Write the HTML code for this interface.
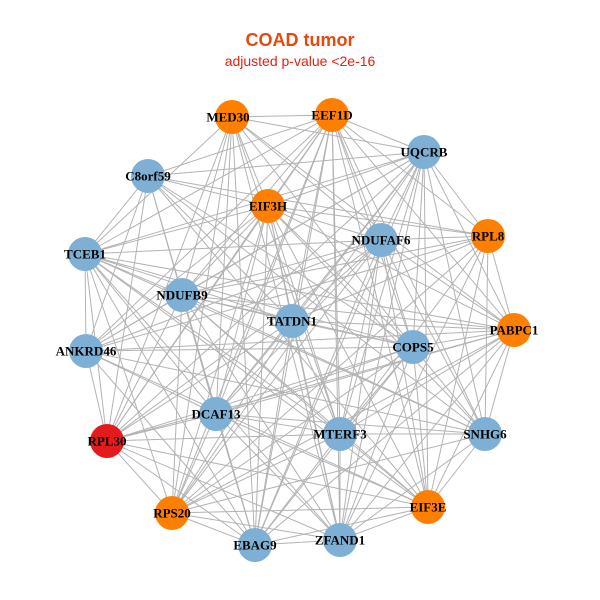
<!DOCTYPE html>
<html><head><meta charset="utf-8"><style>
html,body{margin:0;padding:0;background:#fff;width:600px;height:600px;overflow:hidden}
svg{display:block}
.l{font-family:"Liberation Serif",serif;font-weight:bold;font-size:13px;fill:#000;text-anchor:middle;dominant-baseline:central}
</style></head><body>
<svg id="s" width="600" height="600" viewBox="0 0 600 600">
<text x="300" y="46" font-family="Liberation Sans,sans-serif" font-weight="bold" font-size="18" fill="#e8480e" text-anchor="middle">COAD tumor</text>
<text x="300" y="66" font-family="Liberation Sans,sans-serif" font-size="14" fill="#e8200e" text-anchor="middle">adjusted p-value &lt;2e-16</text>
<g id="e" stroke="#b3b3b3" stroke-width="1"></g>
<g id="n"></g>
<g>
<text class="l" x="228" y="117">MED30</text>
<text class="l" x="332" y="115">EEF1D</text>
<text class="l" x="424" y="152">UQCRB</text>
<text class="l" x="148" y="176">C8orf59</text>
<text class="l" x="268" y="206">EIF3H</text>
<text class="l" x="381" y="240">NDUFAF6</text>
<text class="l" x="488" y="236">RPL8</text>
<text class="l" x="85" y="254">TCEB1</text>
<text class="l" x="182" y="295">NDUFB9</text>
<text class="l" x="292" y="321">TATDN1</text>
<text class="l" x="413" y="347">COPS5</text>
<text class="l" x="514" y="330">PABPC1</text>
<text class="l" x="86" y="351">ANKRD46</text>
<text class="l" x="216" y="414">DCAF13</text>
<text class="l" x="340" y="434">MTERF3</text>
<text class="l" x="485" y="434">SNHG6</text>
<text class="l" x="107" y="441">RPL30</text>
<text class="l" x="172" y="513">RPS20</text>
<text class="l" x="428" y="507">EIF3E</text>
<text class="l" x="255" y="545">EBAG9</text>
<text class="l" x="340" y="540">ZFAND1</text>
</g>
</svg>
<script>
var O="#ff8000",B="#7eb0d5",R="#e41a1c";
var N=[[232,117,O],[332,115,O],[424,152,B],[148,176,B],[268,206,O],[381,240,B],[488,236,O],[85,254,B],[182,295,B],[292,321,B],[413,347,B],[514,330,O],[86,351,B],[216,414,B],[340,434,B],[485,434,B],[107,441,R],[172,513,O],[428,507,O],[255,545,B],[340,540,B]];
var ns="http://www.w3.org/2000/svg",e=document.getElementById("e"),g=document.getElementById("n");
for(var i=0;i<N.length;i++)for(var j=i+1;j<N.length;j++){if((i*7+j*3)%9==0)continue;var l=document.createElementNS(ns,"line");l.setAttribute("x1",N[i][0]);l.setAttribute("y1",N[i][1]);l.setAttribute("x2",N[j][0]);l.setAttribute("y2",N[j][1]);e.appendChild(l);}
N.forEach(function(p){var c=document.createElementNS(ns,"circle");c.setAttribute("cx",p[0]);c.setAttribute("cy",p[1]);c.setAttribute("r",17);c.setAttribute("fill",p[2]);g.appendChild(c);});
</script>
</body></html>
